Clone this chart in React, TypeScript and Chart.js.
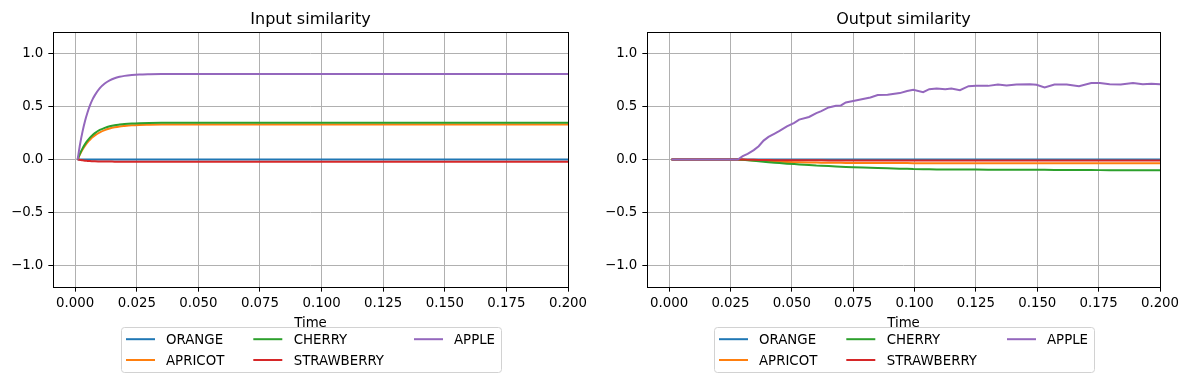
import React, { useEffect, useRef } from 'react';
import { Chart, registerables } from 'chart.js';

Chart.register(...registerables);

// ---------- data ----------
const seriesLabels = ['ORANGE', 'APRICOT', 'CHERRY', 'STRAWBERRY', 'APPLE'];
const seriesColors = ['#1f77b4', '#ff7f0e', '#2ca02c', '#d62728', '#9467bd'];

const xTicks = [0, 0.025, 0.05, 0.075, 0.1, 0.125, 0.15, 0.175, 0.2];
const xTickLabels = ['0.000', '0.025', '0.050', '0.075', '0.100', '0.125', '0.150', '0.175', '0.200'];
const yTicks = [-1, -0.5, 0, 0.5, 1];
const yTickLabels = ['\u22121.0', '\u22120.5', '0.0', '0.5', '1.0'];

// Input similarity
const inTime = [0.001, 0.002, 0.003, 0.004, 0.005, 0.006, 0.007, 0.008, 0.010, 0.012, 0.014, 0.016, 0.018, 0.020, 0.023, 0.026, 0.030, 0.035, 0.040, 0.050, 0.075, 0.100, 0.125, 0.150, 0.175, 0.200];
const inOrange = [0, 0, 0, 0, 0, 0, 0, 0, 0, 0, 0, 0, 0, 0, 0, 0, 0, 0, 0, 0, 0, 0, 0, 0, 0, 0];
const inApricot = [0, 0.051, 0.094, 0.130, 0.161, 0.186, 0.209, 0.227, 0.256, 0.277, 0.292, 0.303, 0.311, 0.316, 0.322, 0.325, 0.327, 0.329, 0.330, 0.330, 0.330, 0.330, 0.330, 0.330, 0.330, 0.330];
const inCherry = [0, 0.057, 0.105, 0.145, 0.178, 0.206, 0.229, 0.248, 0.278, 0.298, 0.313, 0.323, 0.329, 0.334, 0.339, 0.342, 0.344, 0.345, 0.345, 0.345, 0.345, 0.345, 0.345, 0.345, 0.345, 0.345];
const inStrawberry = [0, -0.004, -0.008, -0.011, -0.013, -0.015, -0.016, -0.017, -0.018, -0.019, -0.019, -0.020, -0.020, -0.020, -0.020, -0.020, -0.020, -0.020, -0.020, -0.020, -0.020, -0.020, -0.020, -0.020, -0.020, -0.020];
const inApple = [0, 0.146, 0.265, 0.363, 0.443, 0.509, 0.563, 0.606, 0.672, 0.716, 0.745, 0.765, 0.778, 0.787, 0.795, 0.800, 0.803, 0.805, 0.805, 0.805, 0.805, 0.805, 0.805, 0.805, 0.805, 0.805];

// Output similarity
const outTime = [0.001, 0.010, 0.020, 0.028, 0.030, 0.032, 0.0345, 0.0365, 0.0385, 0.0405, 0.043, 0.045, 0.048, 0.051, 0.053, 0.057, 0.060, 0.062, 0.065, 0.068, 0.070, 0.072, 0.075, 0.079, 0.082, 0.085, 0.089, 0.094, 0.097, 0.0995, 0.1035, 0.106, 0.109, 0.1125, 0.115, 0.1185, 0.122, 0.125, 0.130, 0.134, 0.1375, 0.1415, 0.147, 0.1497, 0.153, 0.157, 0.162, 0.167, 0.172, 0.1755, 0.1795, 0.184, 0.189, 0.193, 0.1965, 0.200];
const outOrange = [0, 0, 0, 0, 0, 0, 0, 0, 0, 0, 0, 0, 0, 0, 0, 0, 0, 0, 0, 0, 0, 0, 0, 0, 0, 0, 0, 0, 0, 0, 0, 0, 0, 0, 0, 0, 0, 0, 0, 0, 0, 0, 0, 0, 0, 0, 0, 0, 0, 0, 0, 0, 0, 0, 0, 0];
const outApricot = [0, 0, 0, 0, -0.002, -0.005, -0.009, -0.012, -0.015, -0.018, -0.020, -0.022, -0.024, -0.026, -0.027, -0.028, -0.029, -0.030, -0.030, -0.031, -0.031, -0.032, -0.032, -0.033, -0.033, -0.033, -0.034, -0.034, -0.034, -0.035, -0.035, -0.035, -0.035, -0.035, -0.035, -0.035, -0.035, -0.035, -0.035, -0.035, -0.035, -0.035, -0.035, -0.035, -0.035, -0.035, -0.035, -0.035, -0.035, -0.035, -0.035, -0.035, -0.035, -0.035, -0.035, -0.035];
const outCherry = [0, 0, 0, 0, -0.002, -0.006, -0.011, -0.016, -0.021, -0.025, -0.030, -0.034, -0.039, -0.043, -0.046, -0.051, -0.056, -0.058, -0.062, -0.066, -0.068, -0.070, -0.072, -0.075, -0.078, -0.080, -0.083, -0.086, -0.088, -0.090, -0.091, -0.092, -0.093, -0.093, -0.094, -0.095, -0.095, -0.095, -0.096, -0.096, -0.097, -0.097, -0.097, -0.097, -0.096, -0.098, -0.098, -0.099, -0.099, -0.100, -0.100, -0.100, -0.100, -0.100, -0.101, -0.101];
const outStrawberry = [0, 0, 0, 0, -0.001, -0.002, -0.003, -0.004, -0.005, -0.005, -0.006, -0.006, -0.007, -0.007, -0.008, -0.008, -0.008, -0.008, -0.009, -0.009, -0.009, -0.009, -0.009, -0.009, -0.009, -0.009, -0.009, -0.009, -0.009, -0.010, -0.010, -0.010, -0.010, -0.010, -0.010, -0.010, -0.010, -0.010, -0.010, -0.010, -0.010, -0.010, -0.010, -0.010, -0.010, -0.010, -0.010, -0.010, -0.010, -0.010, -0.010, -0.010, -0.010, -0.010, -0.010, -0.010];
const outApple = [0, 0, 0, 0, 0.031, 0.053, 0.088, 0.125, 0.178, 0.213, 0.244, 0.269, 0.312, 0.344, 0.375, 0.400, 0.437, 0.456, 0.490, 0.506, 0.509, 0.537, 0.550, 0.569, 0.584, 0.606, 0.609, 0.625, 0.644, 0.656, 0.634, 0.662, 0.669, 0.662, 0.669, 0.653, 0.690, 0.693, 0.693, 0.706, 0.697, 0.706, 0.709, 0.703, 0.678, 0.706, 0.706, 0.690, 0.719, 0.719, 0.709, 0.706, 0.719, 0.709, 0.712, 0.709];

const inputSeries = [inOrange, inApricot, inCherry, inStrawberry, inApple];
const outputSeries = [outOrange, outApricot, outCherry, outStrawberry, outApple];

// ---------- styling ----------
const FONT = "'DejaVu Sans', sans-serif";
const FS = 13.33;
const CANVAS_H = 383;

const decorPlugin = {
  id: 'decor',
  afterDraw(chart: any, _args: any, opts: any) {
    const { ctx, chartArea: a } = chart;
    ctx.save();
    // spines
    ctx.strokeStyle = '#000';
    ctx.lineWidth = 1;
    ctx.strokeRect(a.left + 0.5, a.top + 0.5, a.right - a.left, a.bottom - a.top);
    const cx = (a.left + a.right) / 2;
    // title
    ctx.fillStyle = '#000';
    ctx.textAlign = 'center';
    ctx.textBaseline = 'alphabetic';
    ctx.font = `16px ${FONT}`;
    ctx.fillText(opts.title, cx, a.top - 8);
    // x label
    ctx.font = `${FS}px ${FONT}`;
    ctx.fillText(opts.xlabel, cx, a.bottom + 39.5);
    // legend
    const L = Math.round(cx - 190) + 0.5;
    const T = 327.5;
    const W = 380;
    const H = 45;
    const r = 3;
    ctx.beginPath();
    ctx.moveTo(L + r, T);
    ctx.lineTo(L + W - r, T);
    ctx.arcTo(L + W, T, L + W, T + r, r);
    ctx.lineTo(L + W, T + H - r);
    ctx.arcTo(L + W, T + H, L + W - r, T + H, r);
    ctx.lineTo(L + r, T + H);
    ctx.arcTo(L, T + H, L, T + H - r, r);
    ctx.lineTo(L, T + r);
    ctx.arcTo(L, T, L + r, T, r);
    ctx.closePath();
    ctx.fillStyle = 'rgba(255,255,255,0.8)';
    ctx.fill();
    ctx.strokeStyle = '#d2d2d2';
    ctx.lineWidth = 1;
    ctx.stroke();
    const colHandle = [4.5, 131.8, 292.5];
    const colText = [44.5, 172.2, 332.5];
    const rowY = [339.2, 360];
    ctx.textAlign = 'left';
    ctx.font = `${FS}px ${FONT}`;
    seriesLabels.forEach((lab, i) => {
      const col = Math.floor(i / 2);
      const row = i % 2;
      const y = rowY[row];
      ctx.strokeStyle = seriesColors[i];
      ctx.lineWidth = 2;
      ctx.lineCap = 'butt';
      ctx.beginPath();
      ctx.moveTo(L + colHandle[col], y);
      ctx.lineTo(L + colHandle[col] + 29, y);
      ctx.stroke();
      ctx.fillStyle = '#000';
      ctx.fillText(lab, L + colText[col], y + 4.9);
    });
    ctx.restore();
  },
};

function makeConfig(title: string, time: number[], series: number[][], yW: number, padRight: number, smooth: boolean): any {
  return {
    type: 'line',
    data: {
      datasets: series.map((vals, i) => ({
        label: seriesLabels[i],
        data: time.map((t, j) => ({ x: t, y: vals[j] })),
        borderColor: seriesColors[i],
        backgroundColor: seriesColors[i],
        borderWidth: 2,
        pointRadius: 0,
        fill: false,
        tension: 0,
        cubicInterpolationMode: smooth ? 'monotone' : 'default',
        order: 5 - i,
      })),
    },
    options: {
      animation: false,
      responsive: false,
      devicePixelRatio: 1,
      events: [],
      layout: { padding: { left: 0, right: padRight, top: 32, bottom: 0 } },
      plugins: {
        legend: { display: false },
        title: { display: false },
        tooltip: { enabled: false },
        decor: { title, xlabel: 'Time' },
      },
      scales: {
        x: {
          type: 'linear',
          min: -0.009,
          max: 0.2,
          afterBuildTicks: (s: any) => {
            s.ticks = xTicks.map((v) => ({ value: v }));
          },
          afterFit: (s: any) => {
            s.height = CANVAS_H - 287;
          },
          ticks: {
            autoSkip: false,
            maxRotation: 0,
            minRotation: 0,
            padding: 3.5,
            color: '#000',
            font: { family: FONT, size: FS },
            callback: (_v: any, i: number) => xTickLabels[i],
          },
          grid: {
            color: '#b0b0b0',
            lineWidth: 1,
            drawTicks: true,
            tickLength: 4.67,
            tickColor: '#000',
            tickWidth: 1,
          },
          border: { display: false },
        },
        y: {
          type: 'linear',
          min: -1.2,
          max: 1.2,
          afterBuildTicks: (s: any) => {
            s.ticks = yTicks.map((v) => ({ value: v }));
          },
          afterFit: (s: any) => {
            s.width = yW;
          },
          ticks: {
            autoSkip: false,
            padding: 5,
            color: '#000',
            font: { family: FONT, size: FS },
            callback: (_v: any, i: number) => yTickLabels[i],
          },
          grid: {
            color: '#b0b0b0',
            lineWidth: 1,
            drawTicks: true,
            tickLength: 4.67,
            tickColor: '#000',
            tickWidth: 1,
          },
          border: { display: false },
        },
      },
    },
    plugins: [decorPlugin],
  };
}

function SimChart(props: { width: number; title: string; time: number[]; series: number[][]; yW: number; padRight: number; smooth: boolean }) {
  const ref = useRef<HTMLCanvasElement>(null);
  useEffect(() => {
    const chart = new Chart(ref.current as HTMLCanvasElement, makeConfig(props.title, props.time, props.series, props.yW, props.padRight, props.smooth));
    return () => chart.destroy();
  }, []);
  return (
    <canvas
      ref={ref}
      width={props.width}
      height={CANVAS_H}
      style={{ display: 'block', width: props.width, height: CANVAS_H }}
    />
  );
}

export default function App() {
  return (
    <div
      style={{
        position: 'fixed',
        left: 0,
        top: 0,
        width: 1189,
        height: CANVAS_H,
        background: '#fff',
        display: 'flex',
        flexDirection: 'row',
      }}
    >
      <SimChart width={595} title="Input similarity" time={inTime} series={inputSeries} yW={53} padRight={27} smooth={true} />
      <SimChart width={594} title="Output similarity" time={outTime} series={outputSeries} yW={52} padRight={29} smooth={false} />
    </div>
  );
}
